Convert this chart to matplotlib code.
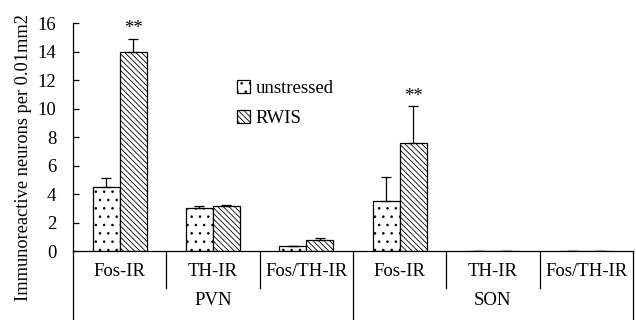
import numpy as np
import matplotlib
matplotlib.use("Agg")
from matplotlib import pyplot as plt
import matplotlib.transforms as mtransforms

plt.rcParams['font.family'] = ['Liberation Serif', 'DejaVu Serif']
plt.rcParams['hatch.linewidth'] = 0.6

categories = ['Fos-IR', 'TH-IR', 'Fos/TH-IR', 'Fos-IR', 'TH-IR', 'Fos/TH-IR']
regions = ['PVN', 'SON']
unstressed = [4.5, 3.05, 0.35, 3.5, 0.0, 0.0]
unstressed_err = [0.6, 0.1, 0.0, 1.7, 0.0, 0.0]
rwis = [14.0, 3.15, 0.8, 7.55, 0.0, 0.0]
rwis_err = [0.9, 0.1, 0.08, 2.6, 0.0, 0.0]
significant = [True, False, False, True, False, False]
yticks = [0, 2, 4, 6, 8, 10, 12, 14, 16]

fs = 13.5

fig = plt.figure(figsize=(6.36, 3.2), dpi=100)
ax = fig.add_axes([0.1148, 0.2156, 0.8802, 0.7125])

x = np.arange(len(categories))
w = 0.29
b1 = ax.bar(x - w / 2, unstressed, w, color='white', edgecolor='black',
            hatch='..', linewidth=0.9, label='unstressed')
b2 = ax.bar(x + w / 2, rwis, w, color='white', edgecolor='black',
            hatch='\\\\\\\\\\\\', linewidth=0.9, label='RWIS')
ax.errorbar(x - w / 2, unstressed, yerr=[np.zeros(len(x)), unstressed_err],
            fmt='none', ecolor='black', elinewidth=0.9, capsize=3.5, capthick=0.9)
ax.errorbar(x + w / 2, rwis, yerr=[np.zeros(len(x)), rwis_err],
            fmt='none', ecolor='black', elinewidth=0.9, capsize=3.5, capthick=0.9)

for i in range(len(x)):
    if significant[i]:
        ax.text(x[i] + w / 2, rwis[i] + rwis_err[i] + 0.1, '**',
                ha='center', va='bottom', fontsize=fs)

ax.set_xlim(-0.5, len(categories) - 0.5)
ax.set_ylim(0, 16)
ax.set_yticks(yticks)
ax.tick_params(axis='y', direction='in', length=4, width=0.9, labelsize=fs, pad=12)
ax.set_xticks([])
ax.spines['top'].set_visible(False)
ax.spines['right'].set_visible(False)
ax.spines['bottom'].set_linewidth(0.9)
ax.spines['left'].set_linewidth(0.9)
ax.set_ylabel('Immunoreactive neurons per 0.01mm2', fontsize=13.2)
ax.yaxis.set_label_coords(-0.073, 0.41)

# category table under the axis
trans = mtransforms.blended_transform_factory(ax.transData, ax.transAxes)
bottom = -231.0 / 228
inner = -37.0 / 228
for k in range(len(categories) + 1):
    xs = k - 0.5
    if k in (0, 3, 6):
        ax.plot([xs, xs], [0, bottom], transform=trans, color='black',
                lw=0.9, clip_on=False)
    else:
        ax.plot([xs, xs], [0, inner], transform=trans, color='black',
                lw=0.9, clip_on=False)
for i, c in enumerate(categories):
    ax.text(i, -20.0 / 228, c, transform=trans, ha='center', va='center',
            fontsize=fs)
for j, r in enumerate(regions):
    ax.text(3 * j + 1, -49.0 / 228, r, transform=trans, ha='center',
            va='center', fontsize=fs)

ax.legend(handles=[b1, b2], loc='upper left', bbox_to_anchor=(0.262, 0.825),
          frameon=False, fontsize=fs, handlelength=0.7, handleheight=0.7,
          handletextpad=0.3, labelspacing=0.7)

fig.savefig('out.png', dpi=100)
